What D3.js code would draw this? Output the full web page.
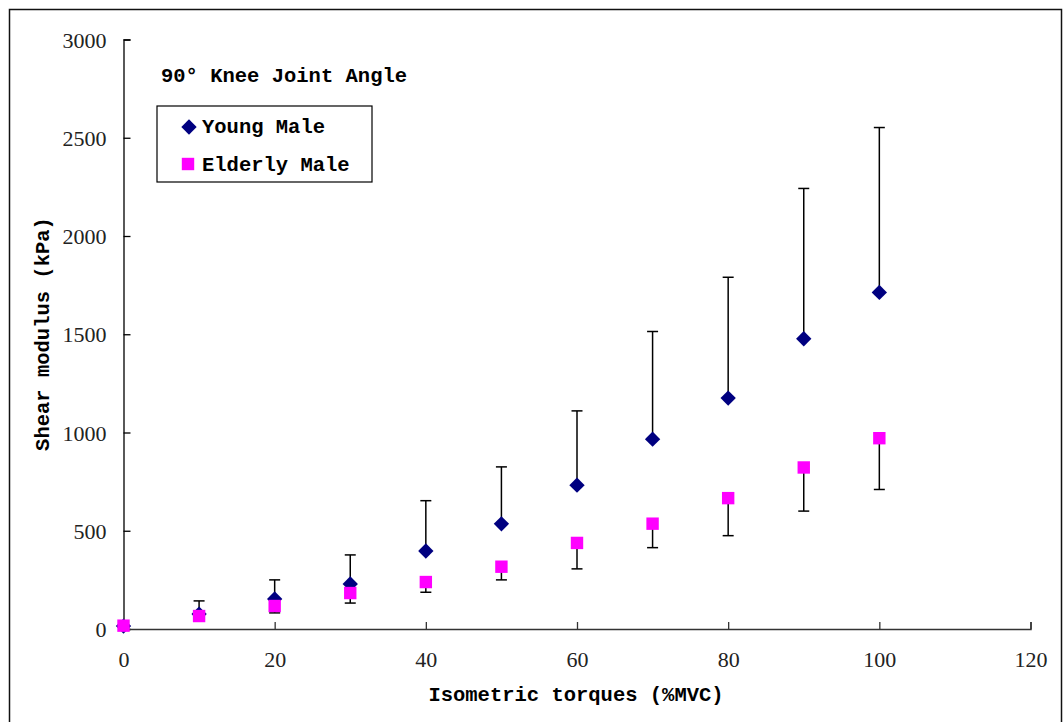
<!DOCTYPE html>
<html lang="en">
<head>
  <meta charset="UTF-8">
  <title>Shear modulus vs isometric torque</title>
  <script src="https://d3js.org/d3.v7.min.js"></script>
  <style>
    body { margin: 0; background: #fff; }
    svg { display: block; }
    .tick-label { font-family: "Liberation Serif", "DejaVu Serif", serif; font-size: 22px; fill: #222; }
    .title-text { font-family: "Liberation Mono", "DejaVu Sans Mono", monospace; font-weight: bold; font-size: 20.5px; fill: #000; }
  </style>
</head>
<body>
<svg width="1063" height="722"></svg>
<script>
  // %MVC levels
  const torques = [0, 10, 20, 30, 40, 50, 60, 70, 80, 90, 100];
  // Young male: mean and upward error (SD)
  const youngMean = [15, 76, 153, 229, 397, 535, 732, 966, 1175, 1477, 1713];
  const youngSD   = [0, 67, 97, 148, 256, 290, 378, 548, 615, 765, 839];
  // Elderly male: mean and downward error (SD)
  const elderMean = [17, 66, 117, 183, 239, 317, 438, 536, 666, 822, 971];
  const elderSD   = [0, 10, 35, 51, 52, 67, 132, 122, 191, 222, 261];

  const xTicks = [0, 20, 40, 60, 80, 100, 120];
  const yTicks = [0, 500, 1000, 1500, 2000, 2500, 3000];

  const svg = d3.select("svg");

  // outer frame
  svg.append("rect")
    .attr("x", 9.5).attr("y", 9.5)
    .attr("width", 1052).attr("height", 740)
    .attr("fill", "none").attr("stroke", "#111").attr("stroke-width", 1.5);

  const x = d3.scaleLinear().domain([0, 120]).range([123.5, 1030.5]);
  const y = d3.scaleLinear().domain([0, 3000]).range([629, 39.5]);

  // y axis
  const yAxis = svg.append("g")
    .attr("transform", `translate(${x(0)},0)`)
    .call(d3.axisLeft(y).tickValues(yTicks).tickSize(-7).tickPadding(17).tickFormat(d3.format("d")));
  yAxis.select(".domain").attr("stroke", "#000").attr("stroke-width", 1.3);
  yAxis.selectAll(".tick line").attr("stroke", "#000").attr("stroke-width", 1.3);
  yAxis.selectAll(".tick text").attr("class", "tick-label").attr("dy", "0.35em");

  // x axis
  const xAxis = svg.append("g")
    .attr("transform", `translate(0,${y(0)})`)
    .call(d3.axisBottom(x).tickValues(xTicks).tickSize(-7).tickPadding(22).tickFormat(d3.format("d")));
  xAxis.select(".domain").attr("stroke", "#333").attr("stroke-width", 1.5);
  xAxis.selectAll(".tick line").attr("stroke", "#333").attr("stroke-width", 1.3);
  xAxis.selectAll(".tick text").attr("class", "tick-label");

  // axis titles
  svg.append("text").attr("class", "title-text")
    .attr("x", 576).attr("y", 701)
    .attr("text-anchor", "middle")
    .text("Isometric torques (%MVC)");

  svg.append("text").attr("class", "title-text")
    .attr("transform", "translate(49,334) rotate(-90)")
    .attr("text-anchor", "middle")
    .text("Shear modulus (kPa)");

  const young = torques.map((t, i) => ({t, m: youngMean[i], e: youngSD[i]}));
  const elder = torques.map((t, i) => ({t, m: elderMean[i], e: elderSD[i]}));

  function errorBars(data, dir) {
    const g = svg.append("g").attr("stroke", "#000").attr("stroke-width", 1.5);
    data.filter(d => d.e > 0).forEach(d => {
      const y0 = y(d.m), y1 = y(d.m + dir * d.e);
      g.append("line").attr("x1", x(d.t)).attr("x2", x(d.t)).attr("y1", y0).attr("y2", y1);
      g.append("line").attr("x1", x(d.t) - 5.5).attr("x2", x(d.t) + 5.5).attr("y1", y1).attr("y2", y1);
    });
  }

  const diamond = d3.symbol().type(d3.symbolDiamond2).size(150);
  const square = d3.symbol().type(d3.symbolSquare2).size(196);

  // young male
  errorBars(young, 1);
  svg.append("g").selectAll("path")
    .data(young).join("path")
    .attr("d", diamond)
    .attr("transform", d => `translate(${x(d.t)},${y(d.m)})`)
    .attr("fill", "#000080");

  // elderly male
  errorBars(elder, -1);
  svg.append("g").selectAll("path")
    .data(elder).join("path")
    .attr("d", square)
    .attr("transform", d => `translate(${x(d.t)},${y(d.m)})`)
    .attr("fill", "#ff00ff");

  // chart title
  svg.append("text").attr("class", "title-text")
    .attr("x", 161).attr("y", 82)
    .text("90\u00b0 Knee Joint Angle");

  // legend
  const legend = svg.append("g");
  legend.append("rect")
    .attr("x", 157).attr("y", 106)
    .attr("width", 215).attr("height", 76)
    .attr("fill", "#fff").attr("stroke", "#000").attr("stroke-width", 1.2);
  legend.append("path").attr("d", diamond)
    .attr("transform", "translate(189,127)").attr("fill", "#000080");
  legend.append("path").attr("d", square)
    .attr("transform", "translate(188,164)").attr("fill", "#ff00ff");
  legend.append("text").attr("class", "title-text")
    .attr("x", 202).attr("y", 133).text("Young Male");
  legend.append("text").attr("class", "title-text")
    .attr("x", 202).attr("y", 171).text("Elderly Male");
</script>
</body>
</html>
